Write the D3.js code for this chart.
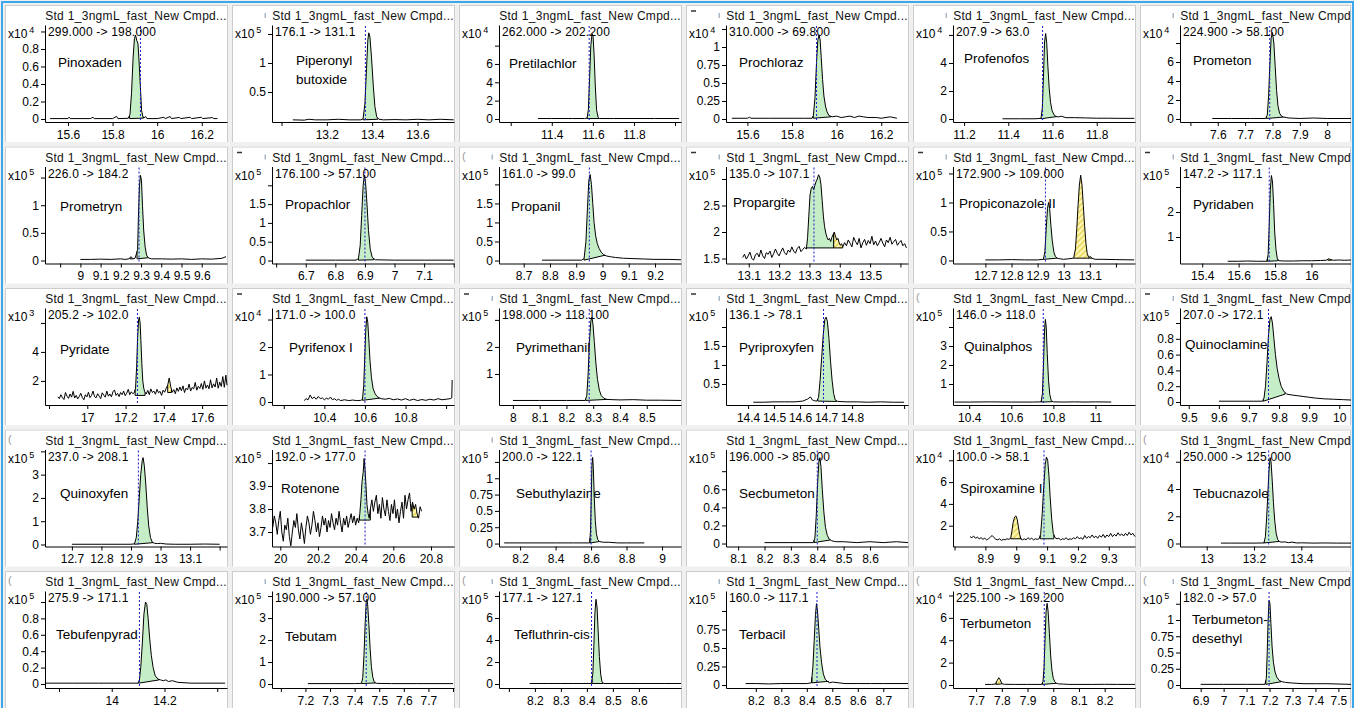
<!DOCTYPE html>
<html><head><meta charset="utf-8">
<script src="https://cdn.jsdelivr.net/npm/d3@7"></script>
<style>
html,body{margin:0;padding:0;background:#fff;}
svg{display:block;}
</style></head><body>
<svg id="chart" width="1362" height="708"></svg>
<script>
// ---------------- DATA ----------------
const sampleTitle = "Std 1_3ngmL_fast_New Cmpd...";
const compounds = ["Pinoxaden","Piperonyl\nbutoxide","Pretilachlor","Prochloraz","Profenofos","Prometon",
 "Prometryn","Propachlor","Propanil","Propargite","Propiconazole II","Pyridaben",
 "Pyridate","Pyrifenox I","Pyrimethanil","Pyriproxyfen","Quinalphos","Quinoclamine",
 "Quinoxyfen","Rotenone","Sebuthylazine","Secbumeton","Spiroxamine I","Tebucnazole",
 "Tebufenpyrad","Tebutam","Tefluthrin-cis","Terbacil","Terbumeton","Terbumeton-\ndesethyl"];
const transitions = ["299.000 -> 198.000","176.1 -> 131.1","262.000 -> 202.200","310.000 -> 69.800","207.9 -> 63.0","224.900 -> 58.100",
 "226.0 -> 184.2","176.100 -> 57.100","161.0 -> 99.0","135.0 -> 107.1","172.900 -> 109.000","147.2 -> 117.1",
 "205.2 -> 102.0","171.0 -> 100.0","198.000 -> 118.100","136.1 -> 78.1","146.0 -> 118.0","207.0 -> 172.1",
 "237.0 -> 208.1","192.0 -> 177.0","200.0 -> 122.1","196.000 -> 85.000","100.0 -> 58.1","250.000 -> 125.000",
 "275.9 -> 171.1","190.000 -> 57.100","177.1 -> 127.1","160.0 -> 117.1","225.100 -> 169.200","182.0 -> 57.0"];
const exponents = [4,5,4,4,4,4, 5,5,5,5,5,5, 3,4,5,5,5,5, 5,5,5,5,4,4, 5,5,5,5,4,5];
const xDomains = [[15.497,16.313],[12.958,13.761],[11.143,12.029],[15.504,16.32],[11.15,11.973],[7.462,8.087],
 [8.825,9.725],[6.586,7.201],[8.606,9.299],[13.025,13.625],[12.576,13.273],[15.278,16.217],
 [16.779,17.73],[10.142,11.039],[7.948,8.628],[14.315,15.015],[10.323,11.188],[9.471,10.039],
 [12.609,13.225],[19.956,20.922],[8.081,9.107],[8.054,8.744],[8.795,9.385],[12.887,13.61],
 [13.747,14.437],[7.064,7.804],[8.062,8.762],[8.083,8.797],[7.61,8.318],[6.81,7.555]];
const yDomains = [[-0.034,1.074],[-0.017,1.655],[-0.33,10.25],[-0.042,1.306],[-0.21,6.71],[-0.32,9.9],
 [-0.054,1.7],[-0.079,2.5],[-0.078,2.47],[1.406,3.236],[-0.052,1.62],[-0.06,3.82],
 [0.34,7.03],[-0.11,3.42],[-0.148,3.44],[-0.053,2.5],[-0.105,5.0],[-0.038,1.19],
 [-0.086,4.08],[3.637,4.059],[-0.045,1.44],[-0.033,1.04],[0.092,8.99],[-0.22,6.9],
 [-0.049,1.134],[-0.18,4.23],[-0.36,8.45],[-0.04,1.27],[-0.27,8.4],[-0.046,1.446]];
const xTickLabels = [[15.6,15.8,16,16.2],[13.2,13.4,13.6],[11.4,11.6,11.8],[15.6,15.8,16,16.2],[11.2,11.4,11.6,11.8],[7.6,7.7,7.8,7.9,8],
 [9,9.1,9.2,9.3,9.4,9.5,9.6],[6.7,6.8,6.9,7,7.1],[8.7,8.8,8.9,9,9.1,9.2],[13.1,13.2,13.3,13.4,13.5],[12.7,12.8,12.9,13,13.1],[15.4,15.6,15.8,16],
 [17,17.2,17.4,17.6],[10.4,10.6,10.8],[8,8.1,8.2,8.3,8.4,8.5],[14.4,14.5,14.6,14.7,14.8],[10.4,10.6,10.8,11],[9.5,9.6,9.7,9.8,9.9,10],
 [12.7,12.8,12.9,13,13.1],[20,20.2,20.4,20.6,20.8],[8.2,8.4,8.6,8.8,9],[8.1,8.2,8.3,8.4,8.5,8.6],[8.9,9,9.1,9.2,9.3],[13,13.2,13.4],
 [14,14.2],[7.2,7.3,7.4,7.5,7.6,7.7],[8.2,8.3,8.4,8.5,8.6],[8.2,8.3,8.4,8.5,8.6,8.7],[7.7,7.8,7.9,8,8.1,8.2],[6.9,7,7.1,7.2,7.3,7.4,7.5]];
const xTickUnlabeled = [[],[13.0],[11.2,12.0],[],[],[7.5],
 [8.9],[6.6,7.2],[],[13.6],[13.2],[],
 [16.8],[10.2,11.0],[],[15.0],[],[],
 [13.2],[],[],[],[8.8],[],
 [13.8,14.4],[7.1,7.8],[8.1],[],[],[]];
const yTickLabels = [[0,0.2,0.4,0.6,0.8],[0.5,1],[0,2,4,6],[0,0.25,0.5,0.75,1],[0,2,4],[0,2,4,6],
 [0,0.5,1],[0,0.5,1,1.5],[0,0.5,1,1.5],[1.5,2,2.5],[0,0.5,1],[1,2],
 [2,4],[0,1,2],[1,2],[0.5,1,1.5],[1,2,3],[0,0.2,0.4,0.6,0.8],
 [0,1,2,3],[3.7,3.8,3.9],[0,0.25,0.5,0.75,1],[0,0.2,0.4,0.6],[2,4,6],[0,2,4],
 [0,0.2,0.4,0.6,0.8],[0,1,2,3],[0,2,4,6],[0,0.25,0.5,0.75],[0,2,4,6],[0,0.25,0.5,0.75,1]];
const yTickUnlabeled = [[1],[1.5],[8],[1.25],[6],[8],
 [1.5],[2],[2],[3],[1.5],[3],
 [6],[3],[3],[2],[4],[1],
 [4],[4],[1.25],[0.8],[8],[6],
 [1],[4],[8],[1],[8],[1.25]];
const retentionTimes = [15.925,13.37,11.582,15.91,11.555,7.79,
 9.29,6.9,8.95,13.315,12.93,15.768,
 17.262,10.6,8.285,14.69,10.752,9.765,
 12.925,20.45,8.6,8.4,9.09,13.262,
 14.105,7.447,8.418,8.44,7.965,7.198];
// integrated peaks: [start, end, baselineStart, baselineEnd, type]  g = integrated, y = other
const peaks = [
 [[15.876,15.937,0.005,0.01,'g']],
 [[13.36,13.425,0.02,0.03,'g']],
 [[11.572,11.63,0.05,0.05,'g']],
 [[15.895,15.975,0.01,0.03,'g']],
 [[11.548,11.62,0.02,0.18,'g']],
 [[7.778,7.84,0.05,0.2,'g']],
 [[9.28,9.335,0.03,0.05,'g'],[9.245,9.26,0.03,0.03,'y']],
 [[6.878,6.93,0.01,0.02,'g']],
 [[8.93,9.01,0.01,0.14,'g']],
 [[13.29,13.38,1.7,1.7,'g'],[13.38,13.41,1.7,1.7,'y']],
 [[12.922,12.975,0.02,0.04,'g'],[13.038,13.108,0.04,0.04,'y']],
 [[15.758,15.815,0.03,0.05,'g'],[16.09,16.11,0.07,0.07,'y']],
 [[17.25,17.302,1.0,1.0,'g'],[17.42,17.44,1.2,1.2,'y']],
 [[10.588,10.672,0.06,0.14,'g']],
 [[8.272,8.352,0.02,0.06,'g']],
 [[14.668,14.74,0.05,0.04,'g']],
 [[10.743,10.795,0.05,0.07,'g']],
 [[9.748,9.82,0.01,0.1,'g']],
 [[12.912,12.975,0.01,0.08,'g']],
 [[20.42,20.478,3.752,3.752,'g'],[20.70,20.73,3.765,3.765,'y']],
 [[8.594,8.645,0.01,0.03,'g']],
 [[8.388,8.45,0.01,0.04,'g']],
 [[9.078,9.122,0.8,0.8,'g'],[8.982,9.017,0.8,0.8,'y']],
 [[13.243,13.305,0.04,0.15,'g']],
 [[14.102,14.18,0.01,0.05,'g']],
 [[7.428,7.485,0.02,0.05,'g']],
 [[8.42,8.462,0.05,0.05,'g']],
 [[8.42,8.485,0.03,0.05,'g']],
 [[7.958,8.012,0.05,0.15,'g'],[7.778,7.8,0.05,0.1,'y']],
 [[7.184,7.25,0.01,0.05,'g']]
];
const traces = [
 [[15.52,0.005],[15.6,0.005],[15.605,0.022],[15.61,0.005],[15.7,0.005],[15.712,0.02],[15.718,0.005],[15.8,0.005],[15.818,0.03],[15.824,0.005],[15.87,0.008],[15.878,0.05],[15.885,0.3],[15.892,0.7],[15.898,0.92],[15.903,0.96],[15.908,0.9],[15.914,0.86],[15.92,0.6],[15.926,0.3],[15.93,0.1],[15.935,0.035],[15.94,0.01],[15.948,0.03],[15.954,0.005],[16.0,0.005],[16.03,0.02],[16.036,0.005],[16.058,0.028],[16.064,0.005],[16.1,0.018],[16.106,0.005],[16.148,0.02],[16.154,0.005],[16.198,0.02],[16.204,0.005],[16.248,0.016],[16.254,0.005],[16.27,0.005]],
 [[13.05,0.02],[13.1,0.015],[13.12,0.03],[13.15,0.02],[13.2,0.02],[13.25,0.03],[13.3,0.02],[13.35,0.02],[13.36,0.04],[13.368,0.3],[13.375,0.9],[13.381,1.4],[13.385,1.52],[13.39,1.45],[13.397,1.1],[13.405,0.6],[13.412,0.25],[13.42,0.07],[13.43,0.03],[13.45,0.02],[13.5,0.025],[13.55,0.02],[13.6,0.03],[13.65,0.02],[13.7,0.03],[13.76,0.02]],
 [[11.333,0.05],[11.4,0.05],[11.5,0.05],[11.56,0.05],[11.572,0.1],[11.578,1.0],[11.584,4.5],[11.59,8.0],[11.596,9.3],[11.601,9.0],[11.606,7.0],[11.612,3.5],[11.618,1.0],[11.625,0.2],[11.632,0.05],[11.7,0.05],[11.8,0.05],[11.9,0.05],[12.02,0.05]],
 [[15.53,0.01],[15.6,0.01],[15.61,0.025],[15.616,0.01],[15.7,0.01],[15.8,0.01],[15.85,0.01],[15.89,0.01],[15.896,0.05],[15.903,0.3],[15.91,0.8],[15.916,1.1],[15.921,1.17],[15.926,1.1],[15.931,0.85],[15.937,0.55],[15.943,0.32],[15.95,0.18],[15.957,0.1],[15.965,0.05],[15.972,0.04],[15.98,0.03],[16.0,0.04],[16.02,0.02],[16.04,0.03],[16.06,0.04],[16.08,0.02],[16.1,0.04],[16.12,0.03],[16.14,0.02],[16.18,0.02],[16.2,0.01],[16.24,0.03],[16.27,0.01]],
 [[11.374,0.02],[11.45,0.02],[11.52,0.02],[11.548,0.05],[11.554,0.8],[11.559,3.0],[11.564,5.5],[11.569,6.1],[11.574,5.4],[11.579,3.8],[11.585,2.2],[11.591,1.2],[11.598,0.6],[11.607,0.3],[11.615,0.2],[11.625,0.15],[11.64,0.2],[11.66,0.1],[11.7,0.1],[11.75,0.08],[11.8,0.06],[11.85,0.06],[11.9,0.05],[11.97,0.05]],
 [[7.58,0.05],[7.65,0.05],[7.72,0.05],[7.775,0.05],[7.781,0.4],[7.786,2.5],[7.79,5.5],[7.795,8.5],[7.8,9.1],[7.805,8.0],[7.81,5.5],[7.815,3.0],[7.82,1.4],[7.826,0.6],[7.833,0.3],[7.84,0.2],[7.85,0.15],[7.86,0.1],[7.9,0.05],[7.95,0.1],[8.0,0.05],[8.087,0.05]],
 [[9.0,0.02],[9.05,0.02],[9.1,0.025],[9.15,0.02],[9.2,0.03],[9.22,0.02],[9.24,0.03],[9.25,0.07],[9.26,0.03],[9.27,0.04],[9.277,0.12],[9.283,0.2],[9.287,0.8],[9.292,1.35],[9.297,1.54],[9.302,1.45],[9.307,1.0],[9.313,0.55],[9.32,0.25],[9.327,0.1],[9.335,0.05],[9.35,0.03],[9.4,0.03],[9.45,0.025],[9.5,0.03],[9.55,0.02],[9.6,0.03],[9.65,0.025],[9.7,0.04],[9.72,0.07]],
 [[6.7,0.01],[6.8,0.01],[6.87,0.01],[6.878,0.05],[6.884,0.4],[6.889,1.2],[6.894,2.0],[6.898,2.27],[6.902,2.1],[6.907,1.5],[6.912,0.8],[6.918,0.3],[6.925,0.08],[6.935,0.02],[7.0,0.01],[7.1,0.01],[7.2,0.01]],
 [[8.77,0.01],[8.85,0.01],[8.92,0.01],[8.93,0.05],[8.937,0.5],[8.943,1.4],[8.948,2.1],[8.953,2.26],[8.958,2.0],[8.963,1.5],[8.968,1.0],[8.974,0.65],[8.98,0.45],[8.987,0.32],[8.995,0.22],[9.005,0.15],[9.015,0.12],[9.03,0.1],[9.05,0.08],[9.08,0.06],[9.12,0.05],[9.16,0.04],[9.2,0.03],[9.25,0.03],[9.299,0.02]],
 [[13.08,1.52],[13.086,1.58],[13.092,1.49],[13.098,1.55],[13.104,1.62],[13.11,1.5],[13.116,1.47],[13.122,1.57],[13.128,1.6],[13.134,1.53],[13.14,1.66],[13.146,1.55],[13.152,1.5],[13.158,1.61],[13.164,1.58],[13.17,1.64],[13.176,1.52],[13.182,1.59],[13.188,1.68],[13.194,1.6],[13.2,1.55],[13.206,1.63],[13.212,1.7],[13.218,1.61],[13.224,1.57],[13.23,1.66],[13.236,1.62],[13.242,1.72],[13.248,1.64],[13.254,1.6],[13.26,1.69],[13.266,1.73],[13.272,1.63],[13.278,1.67],[13.284,1.71],[13.29,1.68],[13.294,1.9],[13.298,2.3],[13.302,2.7],[13.306,2.82],[13.31,2.86],[13.314,2.8],[13.318,2.88],[13.322,2.95],[13.326,3.0],[13.33,3.08],[13.334,3.04],[13.338,2.9],[13.342,2.6],[13.346,2.3],[13.35,2.1],[13.354,1.98],[13.358,1.9],[13.362,1.85],[13.366,1.88],[13.37,1.82],[13.374,1.9],[13.378,1.95],[13.382,2.0],[13.386,1.92],[13.39,1.85],[13.394,1.88],[13.398,1.8],[13.402,1.75],[13.406,1.78],[13.41,1.72],[13.416,1.8],[13.422,1.74],[13.428,1.85],[13.434,1.79],[13.44,1.72],[13.446,1.9],[13.452,1.82],[13.458,1.76],[13.464,1.88],[13.47,1.7],[13.476,1.8],[13.482,1.86],[13.488,1.75],[13.494,1.84],[13.5,1.78],[13.506,1.92],[13.512,1.76],[13.518,1.83],[13.524,1.74],[13.53,1.8],[13.536,1.88],[13.542,1.79],[13.548,1.72],[13.554,1.85],[13.56,1.8],[13.566,1.9],[13.572,1.77],[13.578,1.82],[13.584,1.86],[13.59,1.75],[13.596,1.8],[13.602,1.84],[13.608,1.74],[13.614,1.78],[13.62,1.7]],
 [[12.7,0.01],[12.75,0.01],[12.8,0.015],[12.85,0.01],[12.9,0.01],[12.922,0.02],[12.928,0.15],[12.933,0.55],[12.938,0.9],[12.942,1.0],[12.946,0.9],[12.951,0.6],[12.956,0.35],[12.962,0.15],[12.968,0.07],[12.975,0.04],[12.985,0.03],[13.0,0.02],[13.02,0.03],[13.038,0.04],[13.045,0.2],[13.05,0.55],[13.055,0.95],[13.06,1.3],[13.065,1.47],[13.07,1.3],[13.075,0.95],[13.08,0.6],[13.085,0.3],[13.09,0.12],[13.096,0.05],[13.102,0.07],[13.108,0.04],[13.12,0.02],[13.15,0.02],[13.2,0.015],[13.27,0.01]],
 [[15.54,0.03],[15.6,0.03],[15.65,0.04],[15.7,0.03],[15.755,0.03],[15.762,0.3],[15.768,1.5],[15.774,2.9],[15.78,3.46],[15.786,3.2],[15.792,2.3],[15.798,1.2],[15.805,0.5],[15.812,0.15],[15.82,0.05],[15.85,0.04],[15.9,0.04],[15.95,0.05],[16.0,0.05],[16.05,0.06],[16.08,0.07],[16.095,0.13],[16.105,0.1],[16.12,0.07],[16.15,0.08],[16.18,0.07],[16.217,0.08]],
 [[16.846,0.9],[16.854,0.78],[16.862,1.05],[16.87,0.85],[16.878,0.72],[16.886,1.2],[16.894,0.95],[16.902,0.8],[16.91,1.1],[16.918,0.88],[16.926,1.28],[16.934,0.82],[16.942,1.0],[16.95,0.76],[16.958,0.92],[16.966,1.15],[16.974,0.86],[16.982,0.7],[16.99,1.05],[16.998,0.9],[17.006,1.22],[17.014,0.85],[17.022,1.0],[17.03,1.3],[17.038,0.92],[17.046,0.84],[17.054,1.12],[17.062,0.95],[17.07,0.78],[17.078,1.18],[17.086,1.02],[17.094,0.88],[17.102,1.3],[17.11,0.95],[17.118,1.1],[17.126,0.9],[17.134,1.25],[17.142,1.38],[17.15,1.0],[17.158,1.15],[17.166,0.92],[17.174,1.2],[17.182,1.05],[17.19,1.3],[17.198,0.98],[17.206,1.15],[17.214,1.42],[17.222,1.05],[17.23,1.25],[17.238,1.12],[17.246,1.2],[17.252,1.5],[17.258,3.0],[17.263,5.0],[17.268,6.2],[17.272,6.4],[17.276,6.0],[17.28,4.8],[17.285,3.2],[17.29,2.0],[17.295,1.5],[17.3,1.25],[17.308,1.1],[17.316,1.35],[17.324,1.05],[17.332,1.45],[17.34,1.2],[17.348,1.3],[17.356,1.08],[17.364,1.42],[17.372,1.18],[17.38,1.28],[17.388,1.0],[17.396,1.36],[17.404,1.22],[17.412,1.48],[17.42,1.7],[17.428,2.2],[17.436,1.6],[17.444,1.22],[17.452,1.4],[17.46,1.12],[17.468,1.52],[17.476,1.28],[17.484,1.58],[17.492,1.32],[17.5,1.66],[17.508,1.2],[17.516,1.5],[17.524,1.38],[17.532,1.78],[17.54,1.3],[17.548,1.55],[17.556,1.45],[17.564,1.9],[17.572,1.36],[17.58,1.62],[17.588,1.48],[17.596,1.82],[17.604,1.42],[17.612,2.0],[17.62,1.5],[17.628,1.72],[17.636,1.46],[17.644,2.08],[17.652,1.52],[17.66,1.8],[17.668,1.58],[17.676,2.2],[17.684,1.5],[17.692,1.92],[17.7,1.62],[17.708,2.3],[17.716,1.56],[17.724,2.4],[17.73,1.7]],
 [[10.3,0.05],[10.31,0.12],[10.32,0.08],[10.33,0.25],[10.34,0.12],[10.35,0.18],[10.36,0.1],[10.37,0.2],[10.38,0.12],[10.39,0.15],[10.4,0.08],[10.41,0.14],[10.42,0.1],[10.43,0.18],[10.44,0.08],[10.45,0.12],[10.46,0.06],[10.47,0.1],[10.48,0.05],[10.5,0.08],[10.52,0.05],[10.54,0.07],[10.56,0.05],[10.58,0.06],[10.588,0.1],[10.594,0.6],[10.599,1.6],[10.604,2.6],[10.609,3.1],[10.614,2.9],[10.619,2.3],[10.625,1.5],[10.632,0.9],[10.64,0.5],[10.65,0.3],[10.66,0.2],[10.67,0.15],[10.68,0.12],[10.7,0.1],[10.72,0.13],[10.74,0.08],[10.76,0.11],[10.78,0.07],[10.8,0.12],[10.82,0.06],[10.84,0.1],[10.86,0.05],[10.88,0.09],[10.9,0.06],[10.92,0.1],[10.94,0.07],[10.96,0.12],[10.98,0.08],[11.0,0.1],[11.02,0.12],[11.028,0.15],[11.03,0.8]],
 [[8.0,0.02],[8.1,0.02],[8.2,0.02],[8.27,0.02],[8.276,0.2],[8.281,1.0],[8.286,2.2],[8.291,2.95],[8.295,3.1],[8.299,2.85],[8.304,2.2],[8.31,1.4],[8.316,0.8],[8.323,0.4],[8.33,0.2],[8.34,0.1],[8.35,0.06],[8.37,0.05],[8.4,0.04],[8.45,0.05],[8.5,0.03],[8.55,0.03],[8.628,0.02]],
 [[14.42,0.02],[14.46,0.02],[14.5,0.03],[14.54,0.03],[14.58,0.03],[14.61,0.05],[14.628,0.1],[14.64,0.16],[14.647,0.08],[14.655,0.06],[14.664,0.05],[14.671,0.15],[14.677,0.6],[14.683,1.2],[14.689,1.8],[14.695,2.2],[14.7,2.26],[14.705,2.15],[14.711,1.7],[14.717,1.1],[14.723,0.6],[14.729,0.25],[14.735,0.08],[14.745,0.04],[14.78,0.03],[14.82,0.03],[14.86,0.02],[14.91,0.03],[14.96,0.02],[15.0,0.02]],
 [[10.33,0.05],[10.4,0.05],[10.5,0.06],[10.6,0.05],[10.7,0.05],[10.742,0.06],[10.748,0.5],[10.753,2.0],[10.758,3.8],[10.762,4.4],[10.766,4.0],[10.771,2.6],[10.777,1.2],[10.783,0.45],[10.79,0.12],[10.8,0.06],[10.85,0.05],[10.9,0.06],[10.95,0.05],[11.0,0.06],[11.075,0.05]],
 [[9.6,0.01],[9.65,0.01],[9.7,0.01],[9.745,0.01],[9.75,0.05],[9.755,0.2],[9.76,0.5],[9.765,0.85],[9.77,1.05],[9.774,1.08],[9.778,1.0],[9.783,0.8],[9.788,0.6],[9.794,0.42],[9.8,0.3],[9.807,0.2],[9.815,0.14],[9.825,0.1],[9.84,0.09],[9.86,0.08],[9.88,0.07],[9.9,0.06],[9.92,0.05],[9.95,0.04],[9.98,0.035],[10.01,0.03],[10.039,0.025]],
 [[12.7,0.01],[12.8,0.01],[12.9,0.01],[12.912,0.03],[12.918,0.3],[12.923,1.0],[12.928,2.0],[12.933,3.0],[12.938,3.6],[12.941,3.73],[12.945,3.4],[12.95,2.6],[12.955,1.6],[12.96,0.8],[12.966,0.3],[12.972,0.1],[12.98,0.05],[12.99,0.04],[13.0,0.05],[13.02,0.02],[13.05,0.01],[13.1,0.01],[13.15,0.02],[13.2,0.01]],
 [[19.96,3.72],[19.968,3.77],[19.976,3.74],[19.984,3.69],[19.992,3.75],[20.0,3.79],[20.008,3.7],[20.016,3.66],[20.024,3.73],[20.032,3.71],[20.04,3.76],[20.048,3.68],[20.056,3.64],[20.064,3.7],[20.072,3.75],[20.08,3.72],[20.088,3.78],[20.096,3.71],[20.104,3.67],[20.112,3.74],[20.12,3.7],[20.128,3.65],[20.136,3.72],[20.144,3.77],[20.152,3.74],[20.16,3.69],[20.168,3.73],[20.176,3.79],[20.184,3.75],[20.192,3.7],[20.2,3.74],[20.208,3.68],[20.216,3.72],[20.224,3.77],[20.232,3.73],[20.24,3.76],[20.248,3.7],[20.256,3.75],[20.264,3.72],[20.272,3.78],[20.28,3.74],[20.288,3.71],[20.296,3.76],[20.304,3.73],[20.312,3.79],[20.32,3.74],[20.328,3.7],[20.336,3.76],[20.344,3.73],[20.352,3.77],[20.36,3.72],[20.368,3.75],[20.376,3.78],[20.384,3.74],[20.392,3.77],[20.4,3.73],[20.408,3.76],[20.416,3.74],[20.422,3.78],[20.428,3.84],[20.434,3.92],[20.44,3.96],[20.445,4.02],[20.45,3.97],[20.455,3.9],[20.46,3.82],[20.466,3.78],[20.472,3.76],[20.478,3.8],[20.486,3.84],[20.494,3.79],[20.502,3.83],[20.51,3.86],[20.518,3.78],[20.526,3.82],[20.534,3.76],[20.542,3.85],[20.55,3.8],[20.558,3.77],[20.566,3.84],[20.574,3.79],[20.582,3.75],[20.59,3.82],[20.598,3.78],[20.606,3.84],[20.614,3.76],[20.622,3.8],[20.63,3.74],[20.638,3.79],[20.646,3.83],[20.654,3.76],[20.662,3.86],[20.67,3.8],[20.678,3.84],[20.686,3.87],[20.694,3.79],[20.702,3.83],[20.71,3.8],[20.718,3.82],[20.726,3.78],[20.734,3.76],[20.742,3.81],[20.75,3.79]],
 [[8.11,0.01],[8.2,0.01],[8.3,0.01],[8.4,0.01],[8.5,0.01],[8.592,0.01],[8.597,0.2],[8.601,0.7],[8.605,1.2],[8.609,1.32],[8.613,1.15],[8.618,0.7],[8.624,0.35],[8.63,0.15],[8.638,0.06],[8.648,0.03],[8.67,0.02],[8.7,0.02],[8.75,0.01],[8.8,0.01],[8.9,0.01]],
 [[8.2,0.01],[8.3,0.01],[8.385,0.01],[8.391,0.06],[8.396,0.3],[8.401,0.65],[8.406,0.9],[8.41,0.95],[8.414,0.85],[8.419,0.6],[8.425,0.35],[8.431,0.18],[8.438,0.09],[8.445,0.05],[8.455,0.03],[8.47,0.02],[8.5,0.02],[8.55,0.01],[8.6,0.02],[8.65,0.01],[8.7,0.02],[8.744,0.01]],
 [[8.85,1.0],[8.856,0.9],[8.862,1.05],[8.868,0.85],[8.874,0.95],[8.88,0.8],[8.886,0.9],[8.892,0.75],[8.898,0.85],[8.904,0.7],[8.91,0.8],[8.916,0.95],[8.922,1.1],[8.928,0.9],[8.934,0.75],[8.94,0.7],[8.946,0.8],[8.952,0.65],[8.958,0.75],[8.964,0.7],[8.97,0.8],[8.976,0.75],[8.982,0.85],[8.986,1.5],[8.99,2.3],[8.995,2.8],[8.999,2.9],[9.003,2.6],[9.007,1.9],[9.011,1.2],[9.015,0.8],[9.02,0.7],[9.026,0.8],[9.032,0.7],[9.038,0.9],[9.044,0.75],[9.05,0.85],[9.056,0.7],[9.062,0.8],[9.068,0.75],[9.074,0.8],[9.079,1.2],[9.084,3.0],[9.089,5.5],[9.094,7.6],[9.098,8.3],[9.102,8.0],[9.106,6.6],[9.11,4.6],[9.115,2.6],[9.12,1.3],[9.126,0.9],[9.132,0.8],[9.138,0.85],[9.144,0.7],[9.15,0.8],[9.156,0.75],[9.162,0.9],[9.168,0.7],[9.174,0.8],[9.18,0.75],[9.186,0.9],[9.192,0.8],[9.198,1.0],[9.204,0.8],[9.21,0.9],[9.216,0.75],[9.222,1.1],[9.228,0.85],[9.234,1.0],[9.24,0.9],[9.246,1.15],[9.252,0.9],[9.258,1.05],[9.264,0.85],[9.27,1.1],[9.276,0.95],[9.282,1.2],[9.288,0.9],[9.294,1.15],[9.3,1.0],[9.306,1.3],[9.312,1.0],[9.318,1.2],[9.324,1.05],[9.33,1.35],[9.336,1.1],[9.342,1.25],[9.348,1.05],[9.354,1.3],[9.36,1.1],[9.366,1.4],[9.372,1.15],[9.378,1.3],[9.385,1.0]],
 [[13.06,0.03],[13.1,0.03],[13.15,0.03],[13.2,0.03],[13.242,0.04],[13.248,0.5],[13.253,1.8],[13.258,3.5],[13.263,5.3],[13.268,6.3],[13.272,6.0],[13.277,4.6],[13.282,3.0],[13.288,1.6],[13.294,0.7],[13.3,0.3],[13.307,0.15],[13.315,0.1],[13.33,0.12],[13.345,0.06],[13.36,0.1],[13.38,0.04],[13.4,0.05],[13.45,0.03],[13.5,0.04],[13.55,0.03],[13.61,0.03]],
 [[13.75,0.01],[13.85,0.01],[13.95,0.01],[14.05,0.01],[14.1,0.01],[14.105,0.05],[14.11,0.2],[14.116,0.5],[14.122,0.85],[14.128,1.0],[14.133,0.97],[14.138,0.8],[14.144,0.55],[14.15,0.35],[14.157,0.2],[14.165,0.1],[14.175,0.06],[14.185,0.05],[14.195,0.04],[14.205,0.05],[14.215,0.03],[14.23,0.04],[14.25,0.02],[14.3,0.01],[14.35,0.01],[14.43,0.01]],
 [[7.21,0.02],[7.3,0.02],[7.4,0.02],[7.428,0.03],[7.433,0.3],[7.438,1.3],[7.443,2.8],[7.447,3.7],[7.45,3.86],[7.453,3.6],[7.458,2.7],[7.463,1.6],[7.468,0.8],[7.474,0.3],[7.48,0.08],[7.49,0.03],[7.55,0.02],[7.65,0.02],[7.8,0.02]],
 [[8.18,0.05],[8.25,0.05],[8.3,0.05],[8.35,0.05],[8.418,0.05],[8.423,1.0],[8.427,3.5],[8.431,6.5],[8.435,7.7],[8.439,7.0],[8.443,5.0],[8.448,2.5],[8.453,0.9],[8.458,0.2],[8.465,0.05],[8.5,0.05],[8.6,0.05],[8.7,0.05],[8.762,0.05]],
 [[8.16,0.02],[8.2,0.02],[8.25,0.015],[8.3,0.02],[8.35,0.02],[8.4,0.02],[8.418,0.03],[8.424,0.25],[8.429,0.6],[8.434,0.95],[8.438,1.1],[8.442,1.0],[8.447,0.75],[8.452,0.5],[8.458,0.3],[8.465,0.15],[8.472,0.08],[8.48,0.05],[8.49,0.03],[8.5,0.04],[8.55,0.02],[8.6,0.02],[8.65,0.02],[8.7,0.02],[8.797,0.02]],
 [[7.735,0.05],[7.76,0.05],[7.775,0.08],[7.782,0.4],[7.788,0.65],[7.794,0.45],[7.8,0.12],[7.81,0.06],[7.85,0.05],[7.9,0.05],[7.955,0.05],[7.96,0.3],[7.964,1.5],[7.968,4.0],[7.972,6.5],[7.976,7.3],[7.98,6.6],[7.985,4.6],[7.99,2.6],[7.995,1.3],[8.0,0.6],[8.006,0.3],[8.012,0.15],[8.02,0.1],[8.04,0.08],[8.06,0.05],[8.1,0.05],[8.15,0.05],[8.2,0.06],[8.25,0.05],[8.318,0.05]],
 [[6.9,0.01],[7.0,0.01],[7.1,0.01],[7.18,0.01],[7.186,0.1],[7.19,0.5],[7.194,1.0],[7.198,1.3],[7.202,1.25],[7.206,0.95],[7.211,0.6],[7.217,0.35],[7.224,0.2],[7.232,0.12],[7.242,0.07],[7.255,0.05],[7.27,0.04],[7.3,0.03],[7.35,0.02],[7.4,0.02],[7.45,0.02],[7.555,0.01]]
];
// small window-decoration glyphs per panel: d = dash, p = paren, b = bar before title
const decorations = ["","b","","db","b","b", "","db","pb","db","db","db", "","d","db","db","p","db", "p","","b","","","p", "p","b","pb","b","p","pb"];

// ---------------- LAYOUT ----------------
const colX = [5,232,459,686,913,1140];
const rowY = [5,146.5,288,429.5,571];
const nameOffsets = [[53,62],[64,60],[50,63],[53,62],[51,58],[53,60],
 [55,64],[53,62],[52,64],[47,60],[46,61],[53,62],
 [55,66],[57,64],[57,64],[53,64],[51,63],[45,61],
 [55,68],[49,63],[57,68],[53,68],[47,63],[53,68],
 [51,68],[53,70],[55,68],[53,68],[47,57],[52,53]];
const FONT = '"Liberation Sans", Arial, sans-serif';
const GREEN = '#c6eec6';

const svg = d3.select('#chart');
svg.append('rect').attr('width',1362).attr('height',708).attr('fill','#f0f0f0');
svg.append('rect').attr('x',1354).attr('y',0).attr('width',8).attr('height',708).attr('fill','#ffffff');
const defs = svg.append('defs');
const pat = defs.append('pattern').attr('id','hatch').attr('patternUnits','userSpaceOnUse')
  .attr('width',4).attr('height',4).attr('patternTransform','rotate(45)');
pat.append('rect').attr('width',4).attr('height',4).attr('fill','#fff7b8');
pat.append('line').attr('x1',1).attr('y1',0).attr('x2',1).attr('y2',4).attr('stroke','#e2cf45').attr('stroke-width',1.4);

const fmt = v => String(+v.toFixed(3));

function interpAt(tr, t){
  for (let k=0;k<tr.length-1;k++){
    const a=tr[k], b=tr[k+1];
    if (t>=a[0] && t<=b[0]) return a[1] + (b[1]-a[1])*(t-a[0])/(b[0]-a[0]);
  }
  return t < tr[0][0] ? tr[0][1] : tr[tr.length-1][1];
}

for (let i=0;i<30;i++){
  const c=i%6, r=Math.floor(i/6);
  const L=colX[c], T=rowY[r];
  const W = c===5 ? 1351-L : 223;
  const H = Math.min(137, 708-T);
  const axEnd = c===5 ? 1351 : L+222;

  defs.append('clipPath').attr('id','cp'+i).append('rect').attr('x',L).attr('y',T).attr('width',W).attr('height',H);
  const g = svg.append('g').attr('clip-path','url(#cp'+i+')');
  g.append('rect').attr('x',L+0.5).attr('y',T+0.5).attr('width',W-1).attr('height',H+2)
    .attr('fill','#ffffff').attr('stroke','#cdcdcd');

  const x = d3.scaleLinear().domain(xDomains[i]).range([L+40, axEnd]);
  const y = d3.scaleLinear().domain(yDomains[i]).range([T+117, T+20]);

  // compound name
  const lines = compounds[i].split('\n');
  lines.forEach((ln,k)=>{
    g.append('text').attr('x',L+nameOffsets[i][0]).attr('y',T+nameOffsets[i][1]+k*19)
      .attr('font-family',FONT).attr('font-size',13.5).attr('fill','#000').text(ln);
  });

  const tr = traces[i];
  // peak areas
  peaks[i].forEach(pk=>{
    const [s,e,b0,b1,kind] = pk;
    const base = t => b0 + (b1-b0)*(t-s)/(e-s);
    const seg = [[s, interpAt(tr,s)]].concat(tr.filter(p=>p[0]>s && p[0]<e), [[e, interpAt(tr,e)]]);
    const area = d3.area().x(d=>x(d[0])).y0(d=>y(base(d[0]))).y1(d=>y(Math.max(d[1],base(d[0]))));
    g.append('path').attr('d',area(seg)).attr('fill', kind==='g'?GREEN:'url(#hatch)').attr('stroke','none');
    g.append('line').attr('x1',x(s)).attr('x2',x(e)).attr('y1',y(b0)).attr('y2',y(b1))
      .attr('stroke','#000').attr('stroke-width',1);
    [[s,b0],[e,b1]].forEach(([t,b])=>{
      g.append('line').attr('x1',x(t)).attr('x2',x(t)).attr('y1',y(b)).attr('y2',y(interpAt(tr,t)))
        .attr('stroke','#000').attr('stroke-width',1);
    });
  });
  // trace
  g.append('path').attr('d', d3.line().x(d=>x(d[0])).y(d=>y(d[1]))(tr))
    .attr('fill','none').attr('stroke','#000').attr('stroke-width',1).attr('stroke-linejoin','round');
  // RT line
  g.append('line').attr('x1',x(retentionTimes[i])).attr('x2',x(retentionTimes[i]))
    .attr('y1',T+21).attr('y2',T+115).attr('stroke','#1a1acc').attr('stroke-width',1).attr('stroke-dasharray','2,2');

  // axes
  const yLab = new Set(yTickLabels[i].map(fmt));
  const yAx = d3.axisLeft(y).tickValues(yTickLabels[i].concat(yTickUnlabeled[i]))
    .tickSize(4).tickSizeOuter(0).tickPadding(2).tickFormat(v => yLab.has(fmt(v)) ? fmt(v) : '');
  const ya = g.append('g').attr('transform',`translate(${L+40},0)`).call(yAx);
  const xLab = new Set(xTickLabels[i].map(fmt));
  const xAx = d3.axisBottom(x).tickValues(xTickLabels[i].concat(xTickUnlabeled[i]))
    .tickSize(4).tickSizeOuter(0).tickPadding(4).tickFormat(v => xLab.has(fmt(v)) ? fmt(v) : '');
  const xa = g.append('g').attr('transform',`translate(0,${T+117})`).call(xAx);
  [ya,xa].forEach(a=>{
    a.attr('font-family',FONT).attr('font-size',12);
    a.selectAll('text').attr('fill','#000');
    a.selectAll('line').attr('stroke','#000');
    a.select('.domain').attr('stroke','#000');
  });

  // header texts
  const title = g.append('text').attr('x',L+222).attr('y',T+15).attr('text-anchor','end')
    .attr('font-family',FONT).attr('font-size',12).attr('letter-spacing',0.3).attr('fill','#111').text(sampleTitle);
  g.append('text').attr('x',L+43).attr('y',T+31).attr('font-family',FONT).attr('font-size',12)
    .attr('letter-spacing',0.2).attr('fill','#000').text(transitions[i]);
  const ex = g.append('text').attr('x',L+3).attr('y',T+33).attr('font-family',FONT).attr('font-size',12).attr('fill','#000');
  ex.append('tspan').text('x10');
  ex.append('tspan').attr('dx',2).attr('dy',-5).attr('font-size',9).text(String(exponents[i]));

  const dec = decorations[i];
  if (dec.includes('d')) g.append('line').attr('x1',L+5).attr('x2',L+10).attr('y1',T+6).attr('y2',T+6).attr('stroke','#333').attr('stroke-width',1.5);
  if (dec.includes('p')) g.append('text').attr('x',L+3).attr('y',T+13).attr('font-family',FONT).attr('font-size',11).attr('fill','#999').text('(');
  if (dec.includes('b')){
    const len = title.node().getComputedTextLength();
    const bx = L+222-len-7;
    g.append('line').attr('x1',bx).attr('x2',bx).attr('y1',T+8).attr('y2',T+13).attr('stroke','#7f93aa').attr('stroke-width',1);
  }
}
// window frame (blue)
svg.append('line').attr('x1',2).attr('x2',2).attr('y1',1).attr('y2',708).attr('stroke','#3ea7ec').attr('stroke-width',2);
svg.append('line').attr('x1',1).attr('x2',1354).attr('y1',2).attr('y2',2).attr('stroke','#3ea7ec').attr('stroke-width',2);
svg.append('line').attr('x1',1353).attr('x2',1353).attr('y1',1).attr('y2',708).attr('stroke','#3ea7ec').attr('stroke-width',2);
</script>
</body></html>
